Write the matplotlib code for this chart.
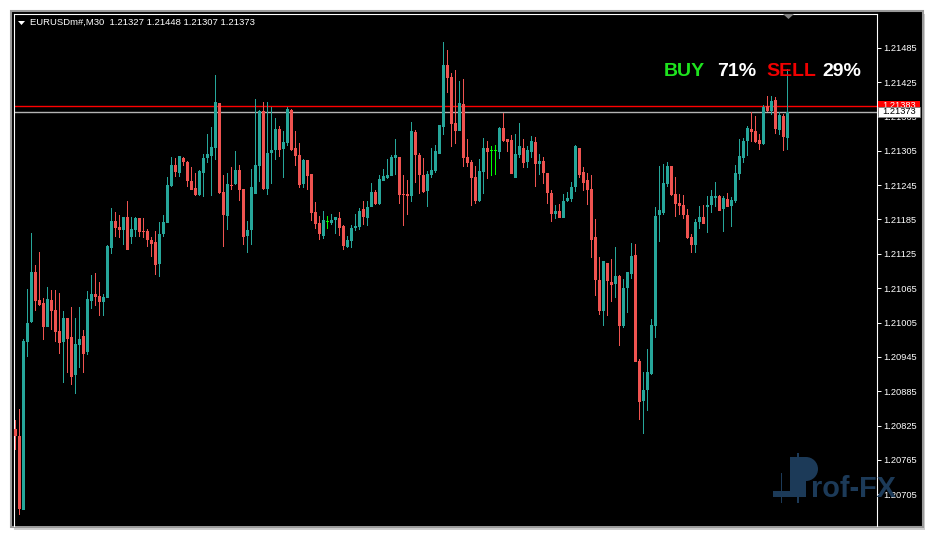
import matplotlib
matplotlib.use('Agg')
import numpy as np
import matplotlib.pyplot as plt
from matplotlib.patches import Rectangle, Polygon, Wedge
from matplotlib.collections import PatchCollection
from matplotlib.transforms import Affine2D

plt.rcParams['font.family'] = ['Liberation Sans', 'DejaVu Sans']

# EURUSD M30 candles, oldest first
opens = [1.20819, 1.20807, 1.20678, 1.20971, 1.21006, 1.21093, 1.21044, 1.21039, 1.20997, 1.21044,
         1.21027, 1.20990, 1.20971, 1.21013, 1.20980, 1.20913, 1.20966, 1.20981, 1.20954, 1.21043,
         1.21055, 1.21051, 1.21041, 1.21048, 1.21135, 1.21182, 1.21172, 1.21167, 1.21189, 1.21154,
         1.21167, 1.21188, 1.21165, 1.21165, 1.21149, 1.21146, 1.21107, 1.21160, 1.21179, 1.21243,
         1.21280, 1.21266, 1.21292, 1.21285, 1.21252, 1.21240, 1.21228, 1.21266, 1.21292, 1.21296,
         1.21310, 1.21388, 1.21233, 1.21191, 1.21245, 1.21247, 1.21271, 1.21238, 1.21156, 1.21167,
         1.21229, 1.21278, 1.21374, 1.21238, 1.21301, 1.21306, 1.21343, 1.21308, 1.21319, 1.21376,
         1.21310, 1.21298, 1.21247, 1.21289, 1.21264, 1.21198, 1.21179, 1.21156, 1.21181, 1.21179,
         1.21184, 1.21188, 1.21174, 1.21137, 1.21147, 1.21170, 1.21172, 1.21203, 1.21188, 1.21207,
         1.21233, 1.21212, 1.21252, 1.21257, 1.21261, 1.21292, 1.21294, 1.21229, 1.21229, 1.21226,
         1.21338, 1.21298, 1.21262, 1.21235, 1.21262, 1.21270, 1.21299, 1.21346, 1.21455, 1.21434,
         1.21353, 1.21340, 1.21387, 1.21294, 1.21285, 1.21259, 1.21217, 1.21268, 1.21310, 1.21306,
         1.21305, 1.21303, 1.21345, 1.21326, 1.21324, 1.21257, 1.21298, 1.21310, 1.21285, 1.21303,
         1.21320, 1.21282, 1.21287, 1.21266, 1.21231, 1.21195, 1.21200, 1.21188, 1.21217, 1.21221,
         1.21242, 1.21310, 1.21268, 1.21254, 1.21238, 1.21154, 1.21079, 1.21025, 1.21109, 1.21076,
         1.21072, 1.21086, 1.20999, 1.21065, 1.21090, 1.21123, 1.20938, 1.20868, 1.20887, 1.20915,
         1.20999, 1.21193, 1.21196, 1.21247, 1.21278, 1.21229, 1.21214, 1.21210, 1.21193, 1.21154,
         1.21140, 1.21181, 1.21189, 1.21207, 1.21210, 1.21222, 1.21226, 1.21203, 1.21221, 1.21209,
         1.21217, 1.21264, 1.21292, 1.21322, 1.21343, 1.21340, 1.21324, 1.21317, 1.21383, 1.21374,
         1.21394, 1.21341, 1.21366, 1.21327]
highs = [1.20835, 1.20854, 1.20976, 1.21064, 1.21161, 1.21105, 1.21128, 1.21048, 1.21067, 1.21062,
         1.21062, 1.21057, 1.21025, 1.21013, 1.21032, 1.21013, 1.21032, 1.20992, 1.21060, 1.21088,
         1.21092, 1.21076, 1.21055, 1.21140, 1.21205, 1.21198, 1.21193, 1.21189, 1.21217, 1.21189,
         1.21189, 1.21188, 1.21188, 1.21168, 1.21154, 1.21165, 1.21181, 1.21193, 1.21259, 1.21294,
         1.21292, 1.21296, 1.21294, 1.21287, 1.21277, 1.21266, 1.21271, 1.21299, 1.21334, 1.21346,
         1.21437, 1.21388, 1.21262, 1.21266, 1.21277, 1.21305, 1.21280, 1.21238, 1.21182, 1.21273,
         1.21395, 1.21376, 1.21390, 1.21390, 1.21381, 1.21362, 1.21348, 1.21340, 1.21381, 1.21378,
         1.21340, 1.21319, 1.21291, 1.21289, 1.21264, 1.21216, 1.21191, 1.21200, 1.21191, 1.21195,
         1.21189, 1.21198, 1.21175, 1.21156, 1.21175, 1.21195, 1.21205, 1.21217, 1.21217, 1.21249,
         1.21236, 1.21262, 1.21273, 1.21291, 1.21298, 1.21326, 1.21294, 1.21262, 1.21254, 1.21355,
         1.21341, 1.21301, 1.21292, 1.21270, 1.21310, 1.21315, 1.21350, 1.21495, 1.21481, 1.21441,
         1.21446, 1.21427, 1.21430, 1.21326, 1.21289, 1.21278, 1.21291, 1.21327, 1.21322, 1.21313,
         1.21315, 1.21346, 1.21371, 1.21326, 1.21333, 1.21334, 1.21353, 1.21326, 1.21313, 1.21331,
         1.21329, 1.21299, 1.21294, 1.21266, 1.21236, 1.21210, 1.21212, 1.21229, 1.21233, 1.21250,
         1.21315, 1.21310, 1.21277, 1.21266, 1.21262, 1.21186, 1.21119, 1.21112, 1.21109, 1.21116,
         1.21137, 1.21088, 1.21081, 1.21093, 1.21144, 1.21142, 1.20941, 1.20919, 1.20959, 1.21011,
         1.21207, 1.21278, 1.21282, 1.21285, 1.21278, 1.21259, 1.21229, 1.21228, 1.21203, 1.21160,
         1.21186, 1.21209, 1.21210, 1.21226, 1.21236, 1.21250, 1.21228, 1.21226, 1.21231, 1.21224,
         1.21280, 1.21326, 1.21327, 1.21348, 1.21373, 1.21366, 1.21334, 1.21385, 1.21401, 1.21401,
         1.21399, 1.21373, 1.21369, 1.21448]
lows = [1.20782, 1.20669, 1.20678, 1.20945, 1.21004, 1.21025, 1.21034, 1.20974, 1.20997, 1.20992,
        1.20971, 1.20950, 1.20899, 1.20917, 1.20896, 1.20880, 1.20926, 1.20917, 1.20948, 1.21029,
        1.21034, 1.21016, 1.21016, 1.21048, 1.21125, 1.21154, 1.21153, 1.21140, 1.21132, 1.21142,
        1.21154, 1.21154, 1.21153, 1.21137, 1.21119, 1.21088, 1.21085, 1.21154, 1.21179, 1.21242,
        1.21259, 1.21259, 1.21278, 1.21242, 1.21236, 1.21226, 1.21226, 1.21224, 1.21284, 1.21226,
        1.21289, 1.21229, 1.21137, 1.21167, 1.21236, 1.21245, 1.21217, 1.21140, 1.21126, 1.21140,
        1.21229, 1.21250, 1.21236, 1.21228, 1.21247, 1.21289, 1.21294, 1.21257, 1.21313, 1.21305,
        1.21278, 1.21240, 1.21240, 1.21236, 1.21182, 1.21168, 1.21149, 1.21151, 1.21168, 1.21175,
        1.21160, 1.21156, 1.21132, 1.21135, 1.21135, 1.21165, 1.21167, 1.21175, 1.21174, 1.21207,
        1.21210, 1.21210, 1.21252, 1.21256, 1.21261, 1.21262, 1.21212, 1.21174, 1.21193, 1.21216,
        1.21249, 1.21229, 1.21231, 1.21207, 1.21257, 1.21266, 1.21299, 1.21333, 1.21406, 1.21312,
        1.21317, 1.21340, 1.21277, 1.21277, 1.21209, 1.21212, 1.21216, 1.21229, 1.21256, 1.21261,
        1.21262, 1.21291, 1.21320, 1.21303, 1.21264, 1.21257, 1.21292, 1.21275, 1.21275, 1.21292,
        1.21242, 1.21262, 1.21247, 1.21212, 1.21181, 1.21186, 1.21188, 1.21188, 1.21216, 1.21216,
        1.21233, 1.21257, 1.21235, 1.21210, 1.21118, 1.21051, 1.21018, 1.20999, 1.21016, 1.21041,
        1.21048, 1.20964, 1.20995, 1.21022, 1.21081, 1.20936, 1.20835, 1.20810, 1.20850, 1.20913,
        1.20978, 1.21146, 1.21193, 1.21242, 1.21226, 1.21189, 1.21193, 1.21186, 1.21151, 1.21126,
        1.21126, 1.21168, 1.21177, 1.21161, 1.21196, 1.21207, 1.21200, 1.21163, 1.21207, 1.21172,
        1.21214, 1.21254, 1.21284, 1.21296, 1.21320, 1.21319, 1.21306, 1.21315, 1.21373, 1.21367,
        1.21334, 1.21333, 1.21305, 1.21307]
closes = [1.20807, 1.20679, 1.20973, 1.21004, 1.21093, 1.21043, 1.21036, 1.20997, 1.21046, 1.21025,
          1.20988, 1.20969, 1.21013, 1.20976, 1.20910, 1.20968, 1.20976, 1.20950, 1.21046, 1.21055,
          1.21050, 1.21041, 1.21050, 1.21139, 1.21182, 1.21170, 1.21167, 1.21189, 1.21132, 1.21168,
          1.21188, 1.21163, 1.21163, 1.21149, 1.21142, 1.21105, 1.21160, 1.21181, 1.21245, 1.21280,
          1.21268, 1.21296, 1.21285, 1.21252, 1.21236, 1.21228, 1.21270, 1.21292, 1.21299, 1.21312,
          1.21390, 1.21231, 1.21193, 1.21247, 1.21243, 1.21271, 1.21236, 1.21154, 1.21167, 1.21242,
          1.21280, 1.21374, 1.21238, 1.21301, 1.21306, 1.21343, 1.21306, 1.21320, 1.21378, 1.21306,
          1.21296, 1.21245, 1.21289, 1.21261, 1.21196, 1.21177, 1.21160, 1.21184, 1.21181, 1.21184,
          1.21189, 1.21170, 1.21139, 1.21149, 1.21170, 1.21174, 1.21200, 1.21189, 1.21207, 1.21233,
          1.21212, 1.21256, 1.21261, 1.21262, 1.21294, 1.21298, 1.21228, 1.21228, 1.21226, 1.21340,
          1.21298, 1.21262, 1.21233, 1.21264, 1.21271, 1.21305, 1.21350, 1.21455, 1.21432, 1.21352,
          1.21340, 1.21388, 1.21292, 1.21284, 1.21257, 1.21217, 1.21270, 1.21310, 1.21303, 1.21306,
          1.21305, 1.21345, 1.21322, 1.21320, 1.21264, 1.21299, 1.21313, 1.21284, 1.21306, 1.21322,
          1.21282, 1.21287, 1.21266, 1.21231, 1.21195, 1.21200, 1.21188, 1.21217, 1.21222, 1.21242,
          1.21313, 1.21262, 1.21249, 1.21236, 1.21149, 1.21079, 1.21025, 1.21112, 1.21078, 1.21071,
          1.21086, 1.20999, 1.21065, 1.21093, 1.21121, 1.20936, 1.20866, 1.20887, 1.20919, 1.21001,
          1.21191, 1.21202, 1.21249, 1.21278, 1.21228, 1.21212, 1.21209, 1.21193, 1.21153, 1.21140,
          1.21181, 1.21189, 1.21177, 1.21210, 1.21226, 1.21226, 1.21200, 1.21222, 1.21207, 1.21219,
          1.21266, 1.21296, 1.21322, 1.21345, 1.21338, 1.21320, 1.21317, 1.21381, 1.21374, 1.21392,
          1.21343, 1.21367, 1.21329, 1.21373]

tick_labels = ['1.20705', '1.20765', '1.20825', '1.20885', '1.20945', '1.21005', '1.21065',
               '1.21125', '1.21185', '1.21245', '1.21305', '1.21365', '1.21425', '1.21485']
ask_price = 1.21383
bid_price = 1.21373
header = 'EURUSDm#,M30  1.21327 1.21448 1.21307 1.21373'
buy_pct = 71
sell_pct = 29

W, H = 935, 538
fig = plt.figure(figsize=(W / 100, H / 100), dpi=100, facecolor='white')
# pixel coords, y measured from the top
pix = Affine2D().scale(1, -1).translate(0, H).scale(1 / W, 1 / H) + fig.transFigure

# chart window: shadow, frame, black body
fig.add_artist(Rectangle((14, 14), 911, 516, transform=pix, facecolor='#cfcfcf',
                         edgecolor='none', zorder=-3))
fig.add_artist(Rectangle((11, 11), 912, 516, transform=pix, facecolor='black',
                         edgecolor='#9a9a9a', lw=1.5, zorder=-2))

ax = fig.add_axes([14 / W, 1 - 526 / H, (877 - 14) / W, (526 - 14) / H])
ax.set_facecolor('black')

bull, bear, doji = '#26a69a', '#ef5350', '#00ff00'
min_body = 0.00002   # keep flat bodies one pixel tall
wicks, bodies, cols = [], [], []
for i, (o, h, l, c) in enumerate(zip(opens, highs, lows, closes)):
    col = bull if c > o else (bear if c < o else doji)
    cols.append(col)
    wicks.append(Rectangle((i - 0.125, l), 0.25, h - l))
    if c == o:
        bodies.append(Rectangle((i - 0.375, o - min_body / 2), 0.75, min_body))
    else:
        bodies.append(Rectangle((i - 0.35, min(o, c)), 0.7, max(abs(c - o), min_body)))

ax.add_collection(PatchCollection(wicks, facecolors=cols, edgecolors='none',
                                  antialiased=False, zorder=2))
ax.add_collection(PatchCollection(bodies, facecolors=cols, edgecolors='none',
                                  antialiased=False, zorder=3))

ax.axhline(ask_price, color='#ff0000', lw=1.0, zorder=1)
ax.axhline(bid_price, color='#b4b4b4', lw=1.0, zorder=1)

ax.set_xlim(-0.325, 215.43)
ax.set_ylim(1.206496, 1.215439)
ax.set_xticks([])
ax.yaxis.tick_right()
ax.set_yticks([float(t) for t in tick_labels])
ax.set_yticklabels(tick_labels)
ax.tick_params(axis='y', colors='white', labelsize=6.7, length=3, width=0.7, pad=1.5)
for s in ['left', 'top', 'right']:
    ax.spines[s].set_color('white')
    ax.spines[s].set_linewidth(0.8)
ax.spines['bottom'].set_visible(False)

# header line
fig.add_artist(Polygon([(18, 21), (25, 21), (21.5, 25)], closed=True, transform=pix,
                       facecolor='white', edgecolor='none', zorder=4))
fig.text(30, 22.7, header, transform=pix, color='white', fontsize=6.8, va='center')

# shift marker
fig.add_artist(Polygon([(783, 14), (794, 14), (788.5, 19)], closed=True, transform=pix,
                       facecolor='#808080', edgecolor='none', zorder=4))

# BUY / SELL readout
fig.text(664, 76.5, 'BUY', transform=pix, color='#1ee31e', fontsize=14, weight='bold', va='baseline')
fig.text(717, 76.5, f'{buy_pct}%', transform=pix, color='white', fontsize=14, weight='bold', va='baseline')
fig.text(766, 76.5, 'SELL', transform=pix, color='#f00000', fontsize=14, weight='bold', va='baseline')
fig.text(822, 76.5, f'{sell_pct}%', transform=pix, color='white', fontsize=14, weight='bold', va='baseline')

# price labels on the axis
fig.add_artist(Rectangle((877.5, 101), 42, 10, transform=pix, facecolor='#ff0000',
                         edgecolor='none', zorder=5))
fig.text(882.5, 106, f'{ask_price:.5f}', transform=pix, color='white', fontsize=6.7,
         va='center', zorder=6)
fig.add_artist(Rectangle((877.5, 107), 42, 10, transform=pix, facecolor='white',
                         edgecolor='#808080', lw=0.6, zorder=7))
fig.text(882.5, 112, f'{bid_price:.5f}', transform=pix, color='black', fontsize=6.7,
         va='center', zorder=8)

# watermark logo
navy = '#1c3a58'
for r in [Rectangle((773, 491), 17, 6), Rectangle((780.5, 473), 1.5, 30),
          Rectangle((797, 453), 1.5, 50), Rectangle((790, 457), 16, 40),
          Rectangle((790, 457), 16, 24)]:
    r.set_transform(pix)
    r.set_facecolor(navy)
    r.set_edgecolor('none')
    r.set_zorder(9)
    fig.add_artist(r)
fig.add_artist(Wedge((806, 469), 12, -90, 90, transform=pix, facecolor=navy,
                     edgecolor='none', zorder=9))
fig.text(811, 497, 'rof-FX', transform=pix, color=navy, fontsize=20.8, weight='bold',
         va='baseline', zorder=9)

fig.savefig('out.png', dpi=100, facecolor='white')
